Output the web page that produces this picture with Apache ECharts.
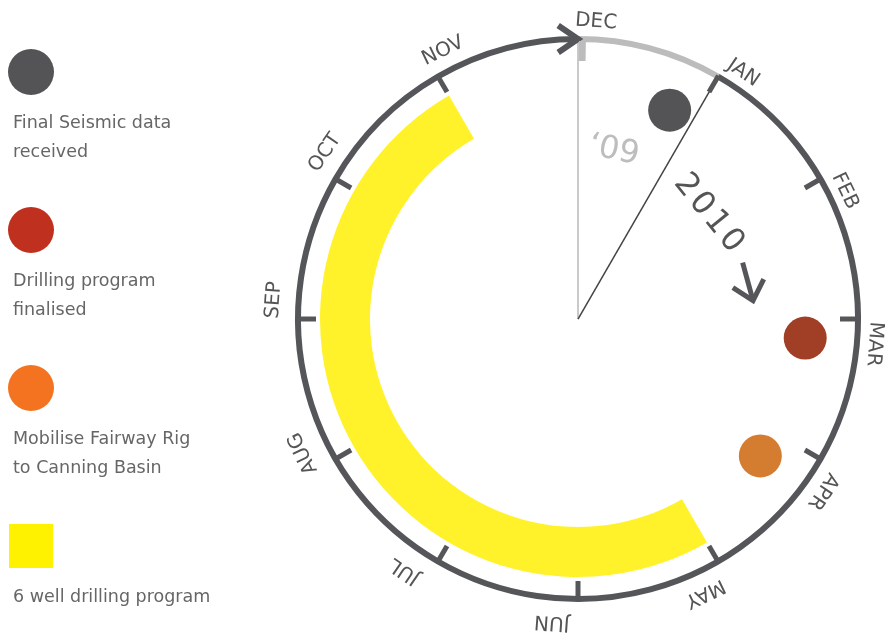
<!DOCTYPE html>
<html>
<head>
<meta charset="utf-8">
<script src="https://cdn.jsdelivr.net/npm/echarts@6/dist/echarts.min.js"></script>
<style>
html, body { margin: 0; padding: 0; background: #fff; }
#main { width: 885px; height: 638px; }
</style>
</head>
<body>
<div id="main"></div>
<script>
// months clockwise from the top, 0 = DEC 2009
var months = ['DEC', 'JAN', 'FEB', 'MAR', 'APR', 'MAY', 'JUN', 'JUL', 'AUG', 'SEP', 'OCT', 'NOV'];
var events = ['Final Seismic data\nreceived', 'Drilling program\nfinalised', 'Mobilise Fairway Rig\nto Canning Basin'];
var eventMonth = [0.79, 3.16, 4.23];
var eventColors = ['#545456', '#a03f25', '#d47c30'];
var legendColors = ['#545456', '#c0301f', '#f47321', '#fff200'];
var programName = '6 well drilling program';
var programSpan = [5, 11]; // MAY -> NOV
var yearLabels = ['\u201809', '2010'];
var yearMonth = [0.4, 1.7];
var arrowSpan = [2.37, 2.8];

var DARK = '#555659', LIGHT = '#bcbcbc';
var FONT = '"DejaVu Sans", Verdana, sans-serif';

var chart = echarts.init(document.getElementById('main'));

// screen angle (zrender arc convention) of a month at radius r
function angOf(api, cs, r, m) {
    var p = api.coord([r, m]);
    return Math.atan2(p[1] - cs.cy, p[0] - cs.cx);
}

// legend on the left, icon above text
var graphics = [];
events.concat([programName]).forEach(function (name, i) {
    var y = 72 + i * 158;
    if (i < events.length) {
        graphics.push({ type: 'circle', shape: { cx: 31, cy: y, r: 23 }, style: { fill: legendColors[i] } });
    } else {
        graphics.push({ type: 'rect', shape: { x: 9, y: y - 22, width: 44, height: 44 }, style: { fill: legendColors[i] } });
    }
    graphics.push({
        type: 'text', x: 13, y: y + 36.5,
        style: { text: name, font: '17.5px ' + FONT, fill: '#666', lineHeight: 29, verticalAlign: 'top' }
    });
});

var option = {
    animation: false,
    backgroundColor: '#fff',
    graphic: graphics,
    polar: { center: [578, 319], radius: 280 },
    angleAxis: {
        type: 'value', min: 0, max: 12, startAngle: 90, clockwise: true,
        axisLine: { show: false }, axisTick: { show: false }, axisLabel: { show: false }, splitLine: { show: false }
    },
    radiusAxis: {
        type: 'value', min: 0, max: 280,
        axisLine: { show: false }, axisTick: { show: false }, axisLabel: { show: false }, splitLine: { show: false }
    },
    series: [
        {
            // yellow drilling program band
            type: 'custom', coordinateSystem: 'polar', z: 1,
            data: [programSpan],
            renderItem: function (params, api) {
                var cs = params.coordSys;
                var a0 = angOf(api, cs, 250, api.value(0));
                var a1 = angOf(api, cs, 250, api.value(1));
                if (a1 < a0) a1 += Math.PI * 2;
                return {
                    type: 'sector',
                    shape: { cx: cs.cx, cy: cs.cy, r0: 208, r: 258, startAngle: a0, endAngle: a1, clockwise: true },
                    style: { fill: '#fff22b' }
                };
            }
        },
        {
            // year ring, arrow head and year dividers
            type: 'custom', coordinateSystem: 'polar', z: 2,
            data: [[0]],
            renderItem: function (params, api) {
                var cs = params.coordSys;
                var a0 = angOf(api, cs, cs.r, 0);
                var a1 = angOf(api, cs, cs.r, 1);
                var a12 = a0 + Math.PI * 2;
                var tip = api.coord([280, 12]);
                var back = a12 + Math.PI / 2 + Math.PI;
                var L = 24, h = 0.6;
                var c = api.coord([0, 0]);
                var pDec = api.coord([280, 0]), pJan = api.coord([280, 1]);
                return {
                    type: 'group',
                    children: [
                        { type: 'line', shape: { x1: c[0], y1: c[1], x2: pDec[0], y2: pDec[1] }, style: { stroke: '#b8b8b8', lineWidth: 1.5 } },
                        { type: 'line', shape: { x1: c[0], y1: c[1], x2: pJan[0], y2: pJan[1] }, style: { stroke: '#444', lineWidth: 1.5 } },
                        { type: 'arc', shape: { cx: cs.cx, cy: cs.cy, r: cs.r, startAngle: a0, endAngle: a1, clockwise: true }, style: { stroke: LIGHT, lineWidth: 6, fill: null } },
                        { type: 'arc', shape: { cx: cs.cx, cy: cs.cy, r: cs.r, startAngle: a1, endAngle: a12, clockwise: true }, style: { stroke: DARK, lineWidth: 6, fill: null } },
                        {
                            type: 'polyline',
                            shape: { points: [
                                [tip[0] + L * Math.cos(back - h), tip[1] + L * Math.sin(back - h)],
                                tip,
                                [tip[0] + L * Math.cos(back + h), tip[1] + L * Math.sin(back + h)]
                            ] },
                            style: { stroke: DARK, lineWidth: 6, fill: null, lineJoin: 'miter' }
                        }
                    ]
                };
            }
        },
        {
            // month ticks and tangential labels
            type: 'custom', coordinateSystem: 'polar', z: 3,
            data: months.map(function (m, i) { return [i]; }),
            renderItem: function (params, api) {
                var cs = params.coordSys;
                var i = api.value(0);
                var dark = i > 0;
                var m = dark ? i : 0.03;
                var p1 = api.coord([dark ? 262 : 258, m]);
                var p2 = api.coord([dark ? 281 : 278, m]);
                var lm = i + 0.14;
                var lp = api.coord([301, lm]);
                var rot = -(angOf(api, cs, 301, lm) + Math.PI / 2);
                return {
                    type: 'group',
                    children: [
                        { type: 'line', shape: { x1: p1[0], y1: p1[1], x2: p2[0], y2: p2[1] }, style: { stroke: dark ? DARK : LIGHT, lineWidth: dark ? 5 : 7 } },
                        {
                            // labels sit on a ring centred slightly left and below the dial
                            type: 'text', x: lp[0] - 4, y: lp[1] + 3, rotation: rot,
                            style: { text: months[params.dataIndex], font: '20px ' + FONT, fill: '#555', align: 'center', verticalAlign: 'middle' }
                        }
                    ]
                };
            }
        },
        {
            // year labels inside the ring
            type: 'custom', coordinateSystem: 'polar', z: 3,
            data: yearMonth.map(function (m) { return [m]; }),
            renderItem: function (params, api) {
                var cs = params.coordSys;
                var i = params.dataIndex;
                var r = i === 0 ? 172 : 168;
                var m = api.value(0);
                var p = api.coord([r, m]);
                var rot = -(angOf(api, cs, r, m) + Math.PI / 2);
                var txt = i === 0 ? yearLabels[0] : yearLabels[1].split('').map(function (c) { return '{d|' + c + '}'; }).join('');
                return {
                    type: 'text', x: p[0], y: p[1], rotation: rot,
                    style: {
                        text: txt, font: '32px ' + FONT, fill: i === 0 ? '#bdbdbd' : '#555',
                        align: 'center', verticalAlign: 'middle',
                        rich: { d: { width: 23.7, align: 'center', font: '32px ' + FONT, fill: '#555' } }
                    }
                };
            }
        },
        {
            // arrow under 2010
            type: 'custom', coordinateSystem: 'polar', z: 3,
            data: [arrowSpan],
            renderItem: function (params, api) {
                var t0 = api.coord([174, api.value(0)]);
                var t1 = api.coord([176, api.value(1)]);
                var back = Math.atan2(t0[1] - t1[1], t0[0] - t1[0]);
                var L = 24, h = 0.73;
                return {
                    type: 'group',
                    children: [
                        { type: 'line', shape: { x1: t0[0], y1: t0[1], x2: t1[0], y2: t1[1] }, style: { stroke: DARK, lineWidth: 5 } },
                        {
                            type: 'polyline',
                            shape: { points: [
                                [t1[0] + L * Math.cos(back - h), t1[1] + L * Math.sin(back - h)],
                                t1,
                                [t1[0] + L * Math.cos(back + h), t1[1] + L * Math.sin(back + h)]
                            ] },
                            style: { stroke: DARK, lineWidth: 5, fill: null }
                        }
                    ]
                };
            }
        },
        {
            // milestone dots
            type: 'scatter', coordinateSystem: 'polar', z: 4,
            symbol: 'circle', symbolSize: 43,
            data: eventMonth.map(function (m, i) {
                return { value: [228, m], itemStyle: { color: eventColors[i], opacity: 1 } };
            })
        }
    ]
};

chart.setOption(option);
</script>
</body>
</html>
